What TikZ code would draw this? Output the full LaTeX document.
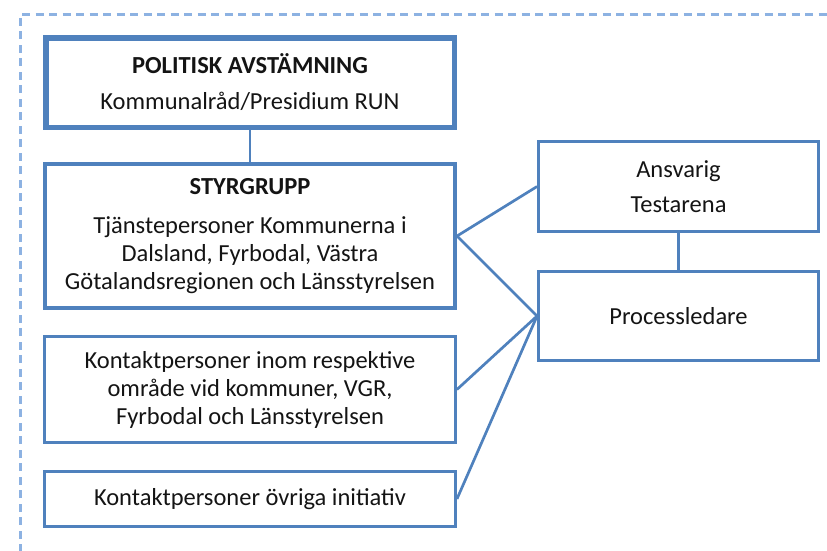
\documentclass[tikz,border=0pt]{standalone}
\usepackage{fontspec}
\setmainfont{Carlito}
\usepackage{tikz}
\usetikzlibrary{
  positioning
}
\usepackage{xcolor}
\definecolor{boxblue}{RGB}{79, 129, 189}
\definecolor{dashblue}{RGB}{141, 178, 226}
\definecolor{txtclr}{RGB}{20, 20, 20}
\tikzset{
  % Ram runt hela bilden
  frameline/.style = {line width=3pt, draw=dashblue, dash pattern=on 8pt off 5.5pt},
  % Rutor
  topbox/.style    = {draw=boxblue, line width=5.5pt, text=txtclr, align=center,
                      minimum width=408.5pt, minimum height=89.5pt},
  mainbox/.style   = {draw=boxblue, line width=3.6pt, text=txtclr, align=center,
                      minimum width=410.5pt},
  subbox/.style    = {draw=boxblue, line width=2.9pt, text=txtclr, align=center,
                      minimum width=411pt},
  sidebox/.style   = {draw=boxblue, line width=2.9pt, text=txtclr, align=center,
                      minimum width=280pt},
  % Linjer
  link/.style      = {draw=boxblue, line width=2.7pt},
}

\begin{document}
\begin{tikzpicture}[x=1pt, y=-1pt, font=\fontsize{24.5}{28}\selectfont]
  \useasboundingbox (0,0) rectangle (827,550);
  % Streckad ram
  \draw[frameline] (20,552) -- (20,14) -- (830,14);

  % Vänster kolumn
  \node[topbox] (politisk) at (250,82.5)
    {\textbf{POLITISK AVSTÄMNING}\\[8pt]Kommunalråd/Presidium RUN};
  \node[mainbox, minimum height=144.4pt, below=32pt of politisk] (styrgrupp)
    {\textbf{STYRGRUPP}\\[11pt]Tjänstepersoner Kommunerna i\\Dalsland, Fyrbodal, Västra\\Götalandsregionen och Länsstyrelsen};
  \node[subbox, minimum height=106.1pt, below=25pt of styrgrupp] (kontakt)
    {Kontaktpersoner inom respektive\\område vid kommuner, VGR,\\Fyrbodal och Länsstyrelsen};
  \node[subbox, minimum height=55.1pt, below=26pt of kontakt] (ovriga)
    {Kontaktpersoner övriga initiativ};

  % Höger kolumn
  \node[sidebox, minimum height=90.1pt] (ansvarig) at (678.5,186.5)
    {Ansvarig\\[7pt]Testarena};
  \node[sidebox, minimum height=89.1pt, below=37pt of ansvarig] (process)
    {Processledare};

  % Kopplingar
  \draw[link] (politisk) -- (styrgrupp);
  \draw[link] (ansvarig) -- (process);
  \draw[link] (styrgrupp.east) -- (ansvarig.west);
  \draw[link] (styrgrupp.east) -- (process.west);
  \draw[link] (kontakt.east) -- (process.west);
  \draw[link] (ovriga.east) -- (process.west);
\end{tikzpicture}
\end{document}
